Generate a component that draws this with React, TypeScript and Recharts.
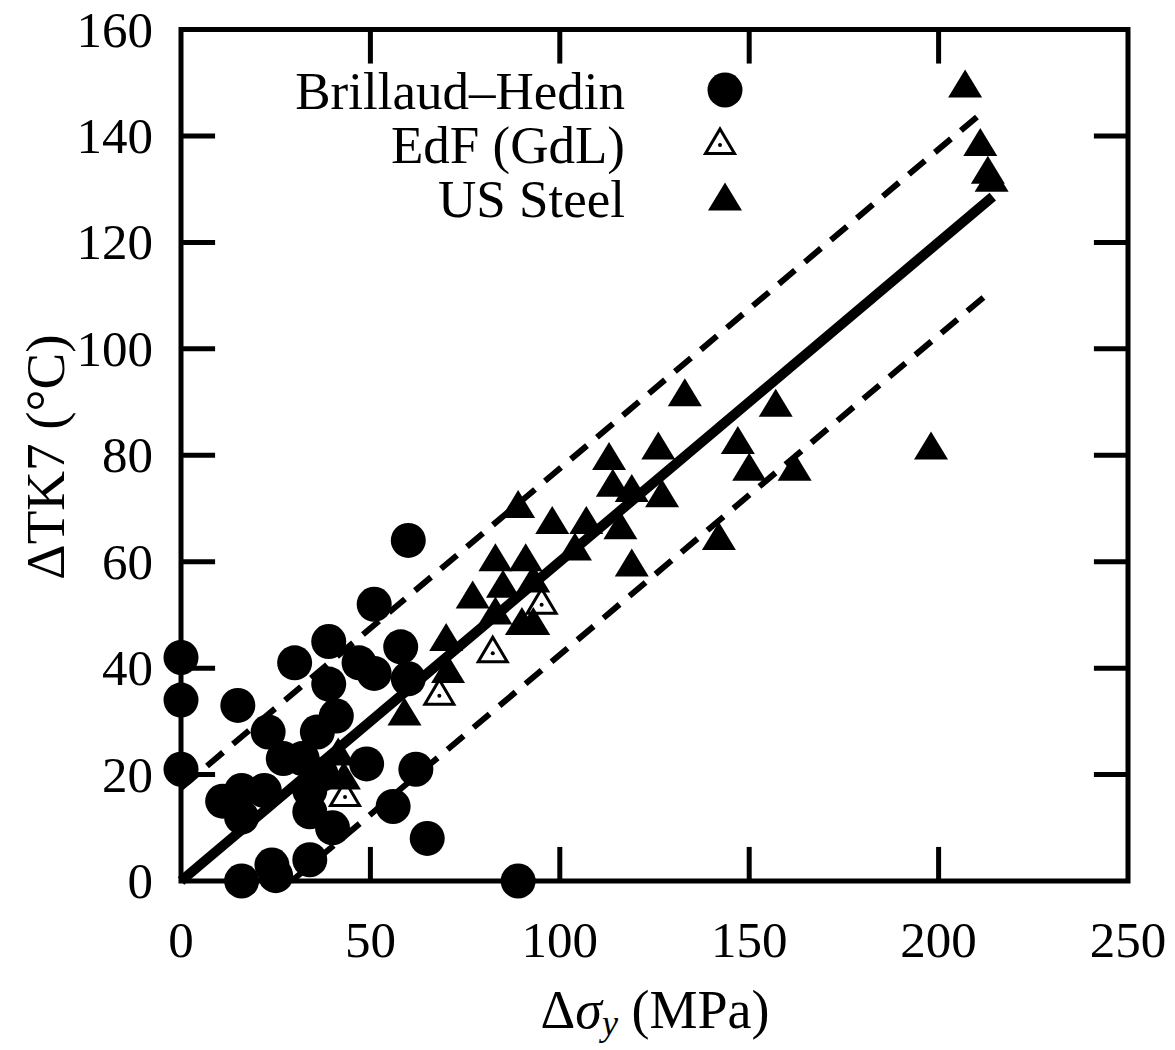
import React from "react";
import { ScatterChart, Scatter, XAxis, YAxis, ReferenceArea, ReferenceLine } from "recharts";

const xTicks = [0, 50, 100, 150, 200, 250];
const yTicks = [0, 20, 40, 60, 80, 100, 120, 140, 160];

const brillaudHedin = [
  { x: 0, y: 42 }, { x: 0, y: 34 }, { x: 0, y: 21 }, { x: 11, y: 15 }, { x: 15, y: 33 },
  { x: 16, y: 17 }, { x: 16, y: 12 }, { x: 16, y: 0 }, { x: 22, y: 17 }, { x: 23, y: 28 },
  { x: 24, y: 3 }, { x: 25, y: 1 }, { x: 27, y: 23 }, { x: 30, y: 41 }, { x: 32, y: 23 },
  { x: 34, y: 13 }, { x: 34, y: 4 }, { x: 34, y: 17 }, { x: 36, y: 28 }, { x: 37, y: 20 },
  { x: 39, y: 45 }, { x: 39, y: 37 }, { x: 40, y: 10 }, { x: 41, y: 31 }, { x: 47, y: 41 },
  { x: 49, y: 22 }, { x: 51, y: 52 }, { x: 51, y: 39 }, { x: 56, y: 14 }, { x: 58, y: 44 },
  { x: 60, y: 38 }, { x: 60, y: 64 }, { x: 62, y: 21 }, { x: 65, y: 8 }, { x: 89, y: 0 },
];

const edfGdL = [
  { x: 43.3, y: 15.8 }, { x: 68.2, y: 34.8 }, { x: 82.3, y: 42.8 }, { x: 95.2, y: 51.9 },
];

const usSteel = [
  { x: 41.5, y: 23.5 }, { x: 43, y: 19 }, { x: 59, y: 31 }, { x: 70, y: 45 }, { x: 70.5, y: 39 },
  { x: 77, y: 53 }, { x: 83, y: 50 }, { x: 83, y: 60 }, { x: 85, y: 55 }, { x: 89, y: 70 },
  { x: 90, y: 48 }, { x: 93, y: 48 }, { x: 91, y: 60 }, { x: 93, y: 56 }, { x: 98, y: 67 },
  { x: 104, y: 62 }, { x: 107, y: 67 }, { x: 113, y: 79 }, { x: 114, y: 74 }, { x: 116, y: 66 },
  { x: 119, y: 73 }, { x: 119, y: 59 }, { x: 126, y: 81 }, { x: 127, y: 72 }, { x: 133, y: 91 },
  { x: 142, y: 64 }, { x: 147, y: 82 }, { x: 150, y: 77 }, { x: 157, y: 89 }, { x: 162, y: 77 },
  { x: 198, y: 81 }, { x: 207, y: 149 }, { x: 211, y: 138 }, { x: 213, y: 132.8 }, { x: 214, y: 131.3 },
];

const fitLine = [{ x: 0, y: 0 }, { x: 214.3, y: 128.6 }];
const upperBand = [{ x: 0, y: 17.5 }, { x: 212, y: 144.7 }];
const lowerBand = [{ x: 29.2, y: 0 }, { x: 213.6, y: 110.7 }];

const legendLabels = ["Brillaud–Hedin", "EdF (GdL)", "US Steel"];

const FONT = "'Liberation Serif', 'DejaVu Serif', serif";
const W = 1160;
const H = 1048;

const Dot = (props: any) => {
  const { cx, cy } = props;
  if (cx == null || cy == null) return <g />;
  return <circle cx={cx} cy={cy} r={17.5} fill="#000" />;
};

const triPath = (cx: number, cy: number) =>
  `M${cx},${cy - 18.5} L${cx + 17},${cy + 9.5} L${cx - 17},${cy + 9.5} Z`;

const FilledTri = (props: any) => {
  const { cx, cy } = props;
  if (cx == null || cy == null) return <g />;
  return <path d={triPath(cx, cy)} fill="#000" />;
};

const OpenTri = (props: any) => {
  const { cx, cy } = props;
  if (cx == null || cy == null) return <g />;
  return (
    <g>
      <path d={`M${cx},${cy - 16} L${cx + 14.5},${cy + 8.5} L${cx - 14.5},${cy + 8.5} Z`} fill="#fff" stroke="#000" strokeWidth={3} />
      <circle cx={cx} cy={cy} r={2} fill="#000" />
    </g>
  );
};

const NoShape = () => <g />;

const XTick = (props: any) => {
  const { x, y, payload } = props;
  return (
    <text x={x} y={y} dy={76} textAnchor="middle" fontFamily={FONT} fontSize={51} fill="#000">
      {payload.value}
    </text>
  );
};

const YTick = (props: any) => {
  const { x, y, payload } = props;
  return (
    <text x={x} y={y} dx={-28} dy={17} textAnchor="end" fontFamily={FONT} fontSize={51} fill="#000">
      {payload.value}
    </text>
  );
};

export default function App() {
  const tickLenY = 6.4; // in y-units (~34px)
  const tickLenX = 9; // in x-units (~34px)
  return (
    <div style={{ position: "relative", marginTop: -8, width: W, height: H, background: "#fff" }}>
      <ScatterChart width={W} height={H} margin={{ top: 29.5, right: 40, bottom: 137, left: 0 }}>
        <XAxis
          type="number"
          dataKey="x"
          domain={[0, 250]}
          ticks={xTicks}
          height={30}
          axisLine={false}
          tickLine={false}
          tickSize={0}
          tickMargin={0}
          tick={<XTick />}
          interval={0}
        />
        <YAxis
          type="number"
          dataKey="y"
          domain={[0, 160]}
          ticks={yTicks}
          width={173}
          axisLine={false}
          tickLine={false}
          tickSize={0}
          tickMargin={0}
          tick={<YTick />}
          interval={0}
        />
        <ReferenceArea x1={0} x2={250} y1={0} y2={160} fill="none" stroke="#000" strokeWidth={5} ifOverflow="visible" />
        {xTicks.slice(1, -1).map((t) => (
          <ReferenceLine key={"xb" + t} segment={[{ x: t, y: 0 }, { x: t, y: tickLenY }]} stroke="#000" strokeWidth={5} ifOverflow="visible" />
        ))}
        {xTicks.slice(1, -1).map((t) => (
          <ReferenceLine key={"xt" + t} segment={[{ x: t, y: 160 }, { x: t, y: 160 - tickLenY }]} stroke="#000" strokeWidth={5} ifOverflow="visible" />
        ))}
        {yTicks.slice(1, -1).map((t) => (
          <ReferenceLine key={"yl" + t} segment={[{ x: 0, y: t }, { x: tickLenX, y: t }]} stroke="#000" strokeWidth={5} ifOverflow="visible" />
        ))}
        {yTicks.slice(1, -1).map((t) => (
          <ReferenceLine key={"yr" + t} segment={[{ x: 250, y: t }, { x: 250 - tickLenX, y: t }]} stroke="#000" strokeWidth={5} ifOverflow="visible" />
        ))}
        <Scatter data={upperBand} shape={NoShape} line={{ stroke: "#000", strokeWidth: 6, strokeDasharray: "21 13" }} isAnimationActive={false} legendType="none" />
        <Scatter data={lowerBand} shape={NoShape} line={{ stroke: "#000", strokeWidth: 6, strokeDasharray: "21 13" }} isAnimationActive={false} legendType="none" />
        <Scatter data={fitLine} shape={NoShape} line={{ stroke: "#000", strokeWidth: 10 }} isAnimationActive={false} legendType="none" />
        <Scatter name={legendLabels[0]} data={brillaudHedin} shape={Dot} isAnimationActive={false} />
        <Scatter name={legendLabels[1]} data={edfGdL} shape={OpenTri} isAnimationActive={false} />
        <Scatter name={legendLabels[2]} data={usSteel} shape={FilledTri} isAnimationActive={false} />
      </ScatterChart>
      <svg width={W} height={H} style={{ position: "absolute", left: 0, top: 0, pointerEvents: "none" }}>
        <g fontFamily={FONT} fontSize={53} fill="#000">
          <text x={617} y={109} textAnchor="end">{legendLabels[0]}</text>
          <text x={617} y={163} textAnchor="end">{legendLabels[1]}</text>
          <text x={617} y={217} textAnchor="end">{legendLabels[2]}</text>
        </g>
        <circle cx={717} cy={90} r={17.5} fill="#000" />
        <OpenTri cx={712} cy={145} />
        <FilledTri cx={717} cy={201} />
        <text x={37} y={457} transform="rotate(-90 37 457)" textAnchor="middle" dominantBaseline="central" fontFamily={FONT} fontSize={55} fill="#000">
          ΔTK7 (°C)
        </text>
        <text x={647} y={1028} textAnchor="middle" fontFamily={FONT} fontSize={54} fill="#000">
          Δ<tspan fontStyle="italic">σ</tspan>
          <tspan fontStyle="italic" fontSize={36} dy={7}>y</tspan>
          <tspan dy={-7}> (MPa)</tspan>
        </text>
      </svg>
    </div>
  );
}
